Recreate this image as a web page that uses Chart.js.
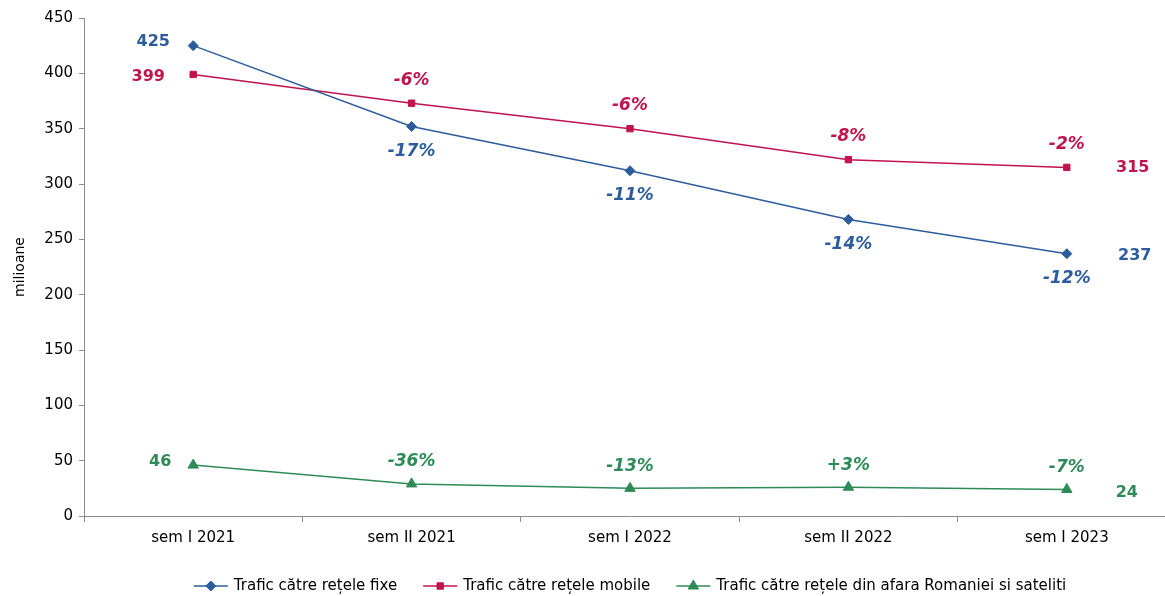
<!DOCTYPE html>
<html>
<head>
<meta charset="utf-8">
<script src="https://cdn.jsdelivr.net/npm/chart.js@4"></script>
<style>
  html, body { margin: 0; padding: 0; background: #fff; overflow: hidden; }
  #wrap { width: 1190px; height: 596px; }
</style>
</head>
<body>
<div id="wrap"><canvas id="grafic"></canvas></div>
<script>
// Date
const categorii = ['sem I 2021', 'sem II 2021', 'sem I 2022', 'sem II 2022', 'sem I 2023'];
const traficFixe = [425, 352, 312, 268, 237];
const traficMobile = [399, 373, 350, 322, 315];
const traficExterior = [46, 29, 25, 26, 24];
const variatieFixe = ['', '-17%', '-11%', '-14%', '-12%'];
const variatieMobile = ['', '-6%', '-6%', '-8%', '-2%'];
const variatieExterior = ['', '-36%', '-13%', '+3%', '-7%'];
const eticheteSerii = [
    'Trafic către rețele fixe',
    'Trafic către rețele mobile',
    'Trafic către rețele din afara Romaniei si sateliti'
];

const culoareAlbastru = '#2D5C9C';
const culoareRosu = '#C0144C';
const culoareVerde = '#2E8B57';
const font = "'DejaVu Sans', Verdana, sans-serif";

// Etichete: valoarea la capete, variatia procentuala la mijloc
const pozitiiEtichete = [
    { variatii: variatieFixe, culoare: culoareAlbastru, dyProc: 25, dxStart: -40, dyStart: -4, dxEnd: 68, dyEnd: 2 },
    { variatii: variatieMobile, culoare: culoareRosu, dyProc: -23, dxStart: -45, dyStart: 2, dxEnd: 66, dyEnd: 0 },
    { variatii: variatieExterior, culoare: culoareVerde, dyProc: -22, dxStart: -33, dyStart: -3, dxEnd: 60, dyEnd: 3 }
];

const pluginEtichete = {
    id: 'etichete',
    afterDatasetsDraw(chart) {
        const ctx = chart.ctx;
        ctx.save();
        ctx.textAlign = 'center';
        ctx.textBaseline = 'middle';
        chart.data.datasets.forEach((ds, i) => {
            const meta = chart.getDatasetMeta(i);
            const cfg = pozitiiEtichete[i];
            ctx.fillStyle = cfg.culoare;
            meta.data.forEach((pt, j) => {
                if (j === 0) {
                    ctx.font = 'bold 16px ' + font;
                    ctx.fillText(String(ds.data[j]), pt.x + cfg.dxStart, pt.y + cfg.dyStart);
                } else {
                    ctx.font = 'italic bold 17px ' + font;
                    ctx.fillText(cfg.variatii[j], pt.x, pt.y + cfg.dyProc);
                }
                if (j === meta.data.length - 1) {
                    ctx.font = 'bold 16px ' + font;
                    ctx.fillText(String(ds.data[j]), pt.x + cfg.dxEnd, pt.y + cfg.dyEnd);
                }
            });
        });
        ctx.restore();
    }
};

// Legenda desenata manual: linie cu marker, ca in Excel
const pluginLegenda = {
    id: 'legendaExcel',
    afterDraw(chart) {
        const ctx = chart.ctx;
        const area = chart.chartArea;
        ctx.save();
        ctx.font = '15px ' + font;
        ctx.textBaseline = 'middle';
        const lungLinie = 34, spatiuText = 6, spatiuItem = 26;
        const latimi = eticheteSerii.map(t => ctx.measureText(t).width);
        const total = latimi.reduce((a, b) => a + b, 0) + 3 * (lungLinie + spatiuText) + 2 * spatiuItem;
        let x = (area.left + area.right) / 2 - total / 2;
        const y = 586;
        chart.data.datasets.forEach((ds, i) => {
            ctx.strokeStyle = ds.borderColor;
            ctx.fillStyle = ds.borderColor;
            ctx.lineWidth = 1.5;
            ctx.beginPath();
            ctx.moveTo(x, y);
            ctx.lineTo(x + lungLinie, y);
            ctx.stroke();
            ctx.lineWidth = 1;
            Chart.helpers.drawPoint(ctx, {
                pointStyle: ds.pointStyle,
                radius: ds.pointRadius,
                borderWidth: 1
            }, x + lungLinie / 2, y);
            ctx.fillStyle = '#000';
            ctx.fillText(eticheteSerii[i], x + lungLinie + spatiuText, y);
            x += lungLinie + spatiuText + latimi[i] + spatiuItem;
        });
        ctx.restore();
    }
};

function serie(eticheta, date, culoare, stil, raza) {
    return {
        label: eticheta,
        data: date,
        borderColor: culoare,
        backgroundColor: culoare,
        borderWidth: 1.5,
        pointStyle: stil,
        pointRadius: raza,
        pointBorderWidth: 1,
        pointBackgroundColor: culoare,
        tension: 0
    };
}

const ctx = document.getElementById('grafic').getContext('2d');
new Chart(ctx, {
    type: 'line',
    data: {
        labels: categorii,
        datasets: [
            serie(eticheteSerii[0], traficFixe, culoareAlbastru, 'rectRot', 5),
            serie(eticheteSerii[1], traficMobile, culoareRosu, 'rect', 4.5),
            serie(eticheteSerii[2], traficExterior, culoareVerde, 'triangle', 6)
        ]
    },
    options: {
        responsive: true,
        maintainAspectRatio: false,
        animation: false,
        layout: { padding: { top: 18, right: 14, bottom: 0, left: 0 } },
        plugins: {
            legend: { display: false },
            tooltip: { enabled: false }
        },
        scales: {
            x: {
                offset: true,
                grid: {
                    offset: true,
                    drawOnChartArea: false,
                    drawTicks: true,
                    tickLength: 6,
                    color: '#8C8C8C'
                },
                border: { color: '#8C8C8C', width: 1 },
                ticks: {
                    color: '#000',
                    font: { family: font, size: 15 },
                    padding: 7,
                    maxRotation: 0
                },
                afterFit(scale) { scale.height = 80; }
            },
            y: {
                min: 0,
                max: 450,
                ticks: {
                    stepSize: 50,
                    color: '#000',
                    font: { family: font, size: 15 },
                    padding: 6
                },
                grid: {
                    drawOnChartArea: false,
                    drawTicks: true,
                    tickLength: 5,
                    color: '#8C8C8C'
                },
                border: { color: '#8C8C8C', width: 1 },
                title: {
                    display: true,
                    text: 'milioane',
                    color: '#000',
                    font: { family: font, size: 14 },
                    padding: { top: 12, bottom: 2 }
                },
                afterFit(scale) { scale.width = 84; }
            }
        }
    },
    plugins: [pluginEtichete, pluginLegenda]
});
</script>
</body>
</html>
